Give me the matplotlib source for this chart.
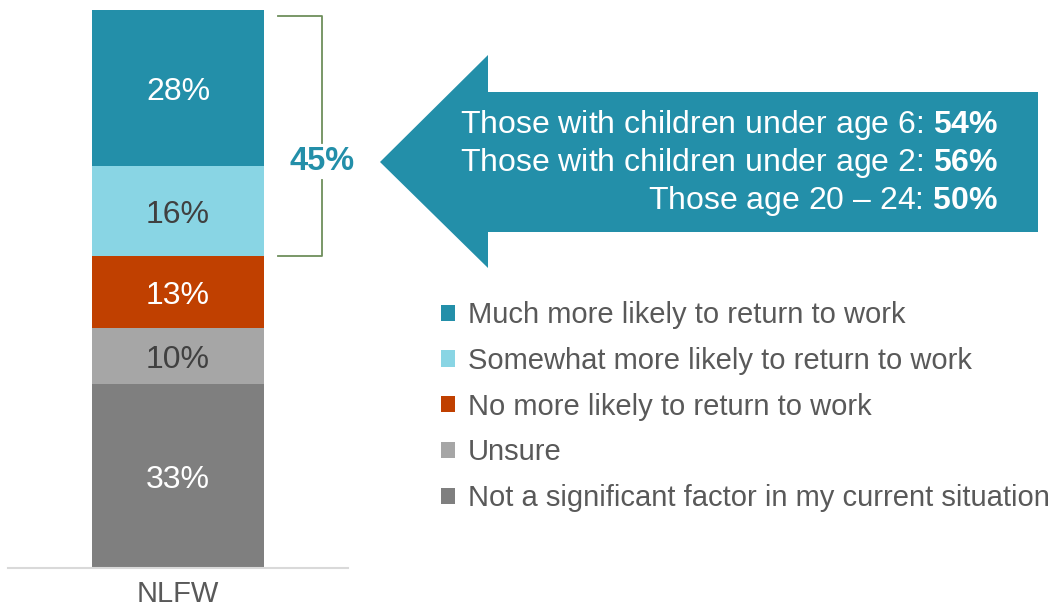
import matplotlib
matplotlib.use('Agg')
from matplotlib import pyplot as plt
from matplotlib.patches import Patch, Polygon
import matplotlib.transforms as mtransforms

plt.rcParams['font.family'] = ['Liberation Sans', 'DejaVu Sans']
plt.rcParams['mathtext.fontset'] = 'custom'
plt.rcParams['mathtext.rm'] = 'Liberation Sans'
plt.rcParams['mathtext.bf'] = 'Liberation Sans:bold'

CATEGORY = 'NLFW'
# stacked from the bottom up
SEGMENTS = [
    'Not a significant factor in my current situation',
    'Unsure',
    'No more likely to return to work',
    'Somewhat more likely to return to work',
    'Much more likely to return to work',
]
VALUES = [33, 10, 13, 16, 28]
COLORS = ['#7f7f7f', '#a6a6a6', '#c04000', '#89d5e4', '#238fa9']
LABEL_COLORS = ['white', '#404040', 'white', '#404040', 'white']

MORE_LIKELY = 45
CALLOUT_LINES = ['Those with children under age 6: ',
                 'Those with children under age 2: ',
                 'Those age 20 – 24: ']
CALLOUT_VALUES = [54, 56, 50]

TEAL = '#238fa9'
TEXT_GRAY = '#595959'

W, H = 1052, 609
fig = plt.figure(figsize=(W / 100, H / 100), dpi=100)

# bar axes
ax = fig.add_axes([8 / W, 1 - 568 / H, 340 / W, 558 / H])
nudge = mtransforms.offset_copy(ax.transData, fig=fig, y=-4, units='dots')
bottom = 0
for val, col, lcol in zip(VALUES, COLORS, LABEL_COLORS):
    ax.bar(0, val, width=0.503, bottom=bottom, color=col)
    ax.text(0, bottom + val / 2, f'{val}%', ha='center', va='center',
            fontsize=23, color=lcol, transform=nudge)
    bottom += val
ax.set_xlim(-0.5, 0.5)
ax.set_ylim(0, 100)
for side in ['top', 'right', 'left']:
    ax.spines[side].set_visible(False)
ax.spines['bottom'].set_color('#d9d9d9')
ax.spines['bottom'].set_linewidth(1.5)
ax.set_yticks([])
ax.set_xticks([0])
ax.set_xticklabels([CATEGORY], fontsize=21, color=TEXT_GRAY)
ax.tick_params(axis='x', length=0, pad=9)

# bracket over the top two segments, label level with the arrow tip
brk_lo = VALUES[0] + VALUES[1] + VALUES[2]
brk_hi = 99
bx0, bx1 = 0.294, 0.424
bracket = dict(color='#6e8f5c', lw=1.3, clip_on=False)
ax.plot([bx0, bx1, bx1], [brk_hi, brk_hi, 76.2], **bracket)
ax.plot([bx1, bx1, bx0], [69.5, brk_lo, brk_lo], **bracket)
ax.text(bx1, 72.8, f'{MORE_LIKELY}%', ha='center', va='center',
        fontsize=23.5, fontweight='bold', color=TEAL)

# callout arrow drawn in pixel space
ov = fig.add_axes([0, 0, 1, 1])
ov.set_xlim(0, W)
ov.set_ylim(H, 0)
ov.axis('off')
ov.patch.set_alpha(0)
arrow = Polygon([(380, 162), (488, 55), (488, 92), (1038, 92), (1038, 232),
                 (488, 232), (488, 268)], closed=True, facecolor=TEAL, edgecolor='none')
ov.add_patch(arrow)
for i, (line, val) in enumerate(zip(CALLOUT_LINES, CALLOUT_VALUES)):
    ov.text(998, 125 + 38 * i, line + r'$\mathbf{' + str(val) + r'\%}$',
            ha='right', va='center', fontsize=23, color='white')

# legend, listed top segment first
handles = [Patch(facecolor=c, edgecolor='none') for c in COLORS[::-1]]
fig.legend(handles, SEGMENTS[::-1], loc='upper left', bbox_to_anchor=(441 / W, 1 - 301 / H),
           frameon=False, fontsize=21, labelcolor=TEXT_GRAY, borderpad=0, borderaxespad=0,
           handlelength=0.48, handleheight=0.48, handletextpad=0.45, labelspacing=0.61)

fig.savefig('out.png', dpi=100)
